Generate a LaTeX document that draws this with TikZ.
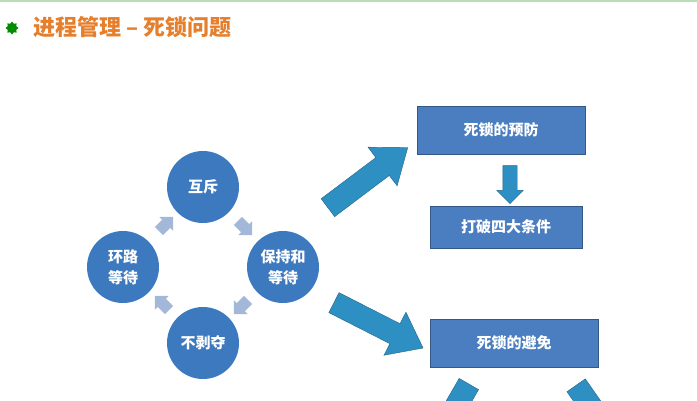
\documentclass[tikz,border=0pt]{standalone}
\usepackage{fontspec}
\newfontfamily\cjk{Noto Sans CJK SC}
\usetikzlibrary{shapes.arrows,shapes.geometric}
\definecolor{titleorange}{HTML}{E57F2C}
\definecolor{boxblue}{HTML}{4A7EC0}
\definecolor{ballblue}{HTML}{3D79BE}
\definecolor{bigarrow}{HTML}{2E90C2}
\definecolor{smallarrow}{HTML}{A3B7D8}
\tikzset{
  ball/.style={circle, fill=ballblue, minimum size=72pt, inner sep=0pt, align=center, text=white, font=\cjk\bfseries\fontsize{15}{21}\selectfont},
  plate/.style={rectangle, fill=boxblue, draw=boxblue!70!black, minimum height=48pt, align=center, text=white, font=\cjk\bfseries\fontsize{15}{18}\selectfont},
  fat/.style={single arrow, fill=bigarrow, draw=bigarrow!70!black, minimum width=48pt, single arrow head extend=13pt, inner sep=11pt, single arrow tip angle=75},
  tiny/.style={single arrow, fill=smallarrow, minimum height=20pt, minimum width=19pt, single arrow head extend=4pt, inner sep=5.5pt}
}
\begin{document}
\begin{tikzpicture}[x=1pt,y=-1pt]
  \useasboundingbox (0,0) rectangle (697,400);
  \clip (0,0) rectangle (697,400);
  % top strip and title
  \fill[green!40!gray!40] (0,0) rectangle (697,2);
  \node[star, star points=8, star point ratio=1.4, fill=green!55!black, minimum size=13pt, inner sep=0pt] (bullet) at (12,28) {};
  \node[anchor=west, text=titleorange, font=\cjk\bfseries\fontsize{22}{26}\selectfont] (title) at (30,27) {进程管理 – 死锁问题};

  % the four conditions
  \node[ball] (mutex) at (203,187) {互斥};
  \node[ball] (hold) at (283,267) {保持和\\等待};
  \node[ball] (nopre) at (203,343) {不剥夺};
  \node[ball] (cycle) at (123,267) {环路\\等待};
  \node[tiny, rotate=-45] (a1) at (243,226) {};
  \node[tiny, rotate=-135] (a2) at (243,305) {};
  \node[tiny, rotate=135] (a3) at (164,305) {};
  \node[tiny, rotate=45] (a4) at (164,226) {};

  % prevention and avoidance
  \node[plate, minimum width=168pt] (prevent) at (501,130) {死锁的预防};
  \node[plate, minimum width=152pt, minimum height=42pt] (breakfour) at (506,227) {打破四大条件};
  \node[plate, minimum width=168pt] (avoid) at (514,343) {死锁的避免};
  \node[single arrow, fill=bigarrow, draw=bigarrow!70!black, rotate=-90, minimum height=38pt, minimum width=26pt, single arrow head extend=6pt, inner sep=7pt] (down) at (510,181) {};

  \node[fat, rotate=37, minimum height=100pt] (up) at (362,182) {};
  \node[fat, rotate=-27, minimum height=100pt] (dn) at (372,322) {};
  \node[fat, rotate=-120, minimum height=70pt] (left) at (455,408) {};
  \node[fat, rotate=-55, minimum height=70pt] (right) at (592,408) {};
\end{tikzpicture}
\end{document}
